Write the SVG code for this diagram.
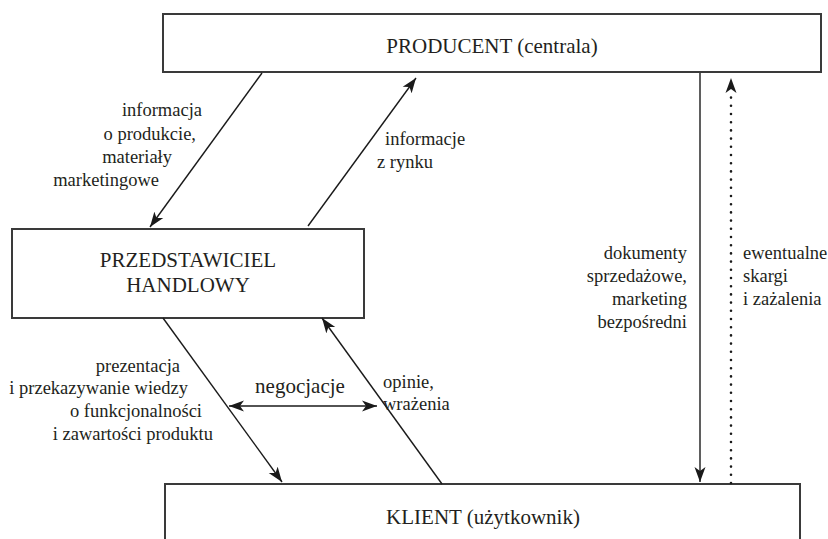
<svg xmlns="http://www.w3.org/2000/svg" width="828" height="539" viewBox="0 0 828 539">
<defs>
<style>
.box{fill:#fff;stroke:#3a3a3a;stroke-width:2}
text{font-family:'Liberation Serif','Times New Roman',serif;fill:#231f20}
.node{font-size:21px;text-anchor:middle}
.lbl{font-size:18.5px}
.end{text-anchor:end}
.line{stroke:#1a1a1a;stroke-width:1.4;fill:none;marker-end:url(#ah)}
.dot{stroke:#1a1a1a;stroke-width:2.6;fill:none;stroke-dasharray:0 8.2;stroke-linecap:round}
</style>
<marker id="ah" markerUnits="userSpaceOnUse" markerWidth="16" markerHeight="12" refX="15" refY="6" orient="auto-start-reverse" viewBox="0 0 16 12">
<path d="M0,0.5 L15,6 L0,11.5 L4,6 Z" fill="#1a1a1a"/>
</marker>
</defs>
<g id="producent">
<rect class="box" x="163" y="14" width="658" height="58"/>
<text class="node" x="492" y="53">PRODUCENT (centrala)</text>
</g>
<g id="przedstawiciel">
<rect class="box" x="12" y="229" width="352" height="89"/>
<text class="node" x="188" y="267">PRZEDSTAWICIEL</text>
<text class="node" x="188" y="292">HANDLOWY</text>
</g>
<g id="klient">
<rect class="box" x="165" y="484" width="635" height="80"/>
<text class="node" x="483" y="524">KLIENT (użytkownik)</text>
</g>
<g id="connectors">
<line class="line" x1="262" y1="73" x2="150" y2="227"/>
<line class="line" x1="308" y1="226" x2="416" y2="78"/>
<line class="line" x1="163" y1="318" x2="282" y2="482"/>
<line class="line" x1="442" y1="484" x2="322" y2="318"/>
<line class="line" x1="229" y1="406" x2="377" y2="406" style="marker-start:url(#ah)"/>
<line class="line" x1="700" y1="73" x2="700" y2="482"/>
<line class="dot" x1="731" y1="483" x2="731" y2="93"/>
<line x1="731" y1="95" x2="731" y2="78" stroke="none" style="marker-end:url(#ah)"/>
</g>
<g id="labels">
<text class="lbl end" x="202" y="116">informacja</text>
<text class="lbl end" x="196" y="140">o produkcie,</text>
<text class="lbl end" x="172" y="163">materiały</text>
<text class="lbl end" x="159" y="186">marketingowe</text>
<text class="lbl" x="385" y="145">informacje</text>
<text class="lbl" x="377" y="168">z rynku</text>
<text class="lbl end" x="180" y="372">prezentacja</text>
<text class="lbl end" x="188" y="394">i przekazywanie wiedzy</text>
<text class="lbl end" x="202" y="417">o funkcjonalności</text>
<text class="lbl end" x="213" y="440">i zawartości produktu</text>
<text class="node" x="300" y="393">negocjacje</text>
<text class="lbl" x="383" y="388">opinie,</text>
<text class="lbl" x="383" y="410">wrażenia</text>
<text class="lbl end" x="687" y="259">dokumenty</text>
<text class="lbl end" x="687" y="282">sprzedażowe,</text>
<text class="lbl end" x="687" y="305">marketing</text>
<text class="lbl end" x="687" y="328">bezpośredni</text>
<text class="lbl" x="743" y="259">ewentualne</text>
<text class="lbl" x="743" y="282">skargi</text>
<text class="lbl" x="743" y="305">i zażalenia</text>
</g>
</svg>
